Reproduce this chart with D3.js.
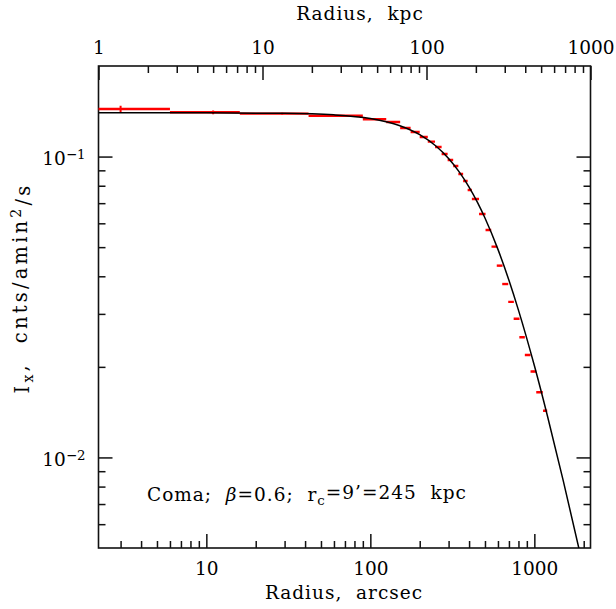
<!DOCTYPE html>
<html>
<head>
<meta charset="utf-8">
<script src="https://cdn.jsdelivr.net/npm/d3@7"></script>
<style>
  body { margin: 0; background: #fff; }
  text { font-family: "DejaVu Serif", serif; fill: #000; }
</style>
</head>
<body>
<svg id="profile" width="616" height="609"></svg>
<script>
//surface brightness bins, radius in arcsec (inner / outer edge of each annulus)
var binInner = [0, 6, 16, 42, 90, 125, 152, 176, 200, 224, 248, 272, 296, 320, 344, 368, 392, 416, 460,
                504, 548, 590, 637, 693, 748, 810, 875, 948, 1027, 1130];
var binOuter = [6, 16, 42, 90, 125, 152, 176, 200, 224, 248, 272, 296, 320, 344, 368, 392, 416, 460, 504,
                546, 594, 640, 693, 750, 812, 875, 948, 1027, 1126, 1198];
//measured brightness, cnts/amin^2/s
var flux = [0.1439, 0.1403, 0.1389, 0.1367, 0.1330, 0.1303, 0.1245, 0.1207, 0.1162, 0.1121, 0.1076, 0.1020,
            0.0974, 0.0930, 0.0875, 0.0829, 0.0774, 0.0723, 0.0644,
            0.0570, 0.0502, 0.0434, 0.0377, 0.0329, 0.0289, 0.0251, 0.0219, 0.0193, 0.01646, 0.01430];
var fluxErr = [0.0037, 0.0021, 0.0010, 0.0008, 0.0008, 0.0006, 0.0005, 0.0005, 0.0005, 0.0005, 0.0005, 0.0004,
               0.0004, 0.0004, 0.0004, 0.0003, 0.0003, 0.0003, 0.0003,
               0.0002, 0.0002, 0.0002, 0.0002, 0.0001, 0.0001, 0.0001, 0.0001, 0.0001, 0.0001, 0.0001];

//beta model curve (radius arcsec, brightness)
var modelRadius = [2.2, 10, 30, 60, 100, 150, 200, 250, 300, 350, 400, 450, 500, 600, 700, 800, 1000, 1200, 1500, 1900];
var modelFlux = [0.1398, 0.13974, 0.13924, 0.13759, 0.13380, 0.12692, 0.11829, 0.10861, 0.09855, 0.08861, 0.07916,
                 0.07043, 0.06250, 0.04915, 0.03880, 0.03088, 0.02020, 0.01379, 0.008378, 0.004798];

//tick values
var arcsecMajor = [10, 100, 1000];
var arcsecMinor = [3, 4, 5, 6, 7, 8, 9, 20, 30, 40, 50, 60, 70, 80, 90, 200, 300, 400, 500, 600, 700, 800, 900, 2000];
var kpcMajor = [1, 10, 100, 1000];
var kpcMinor = [2, 3, 4, 5, 6, 7, 8, 9, 20, 30, 40, 50, 60, 70, 80, 90, 200, 300, 400, 500, 600, 700, 800, 900];
var fluxMajor = [0.01, 0.1];
var fluxExp = {0.01: "\u22122", 0.1: "\u22121"};
var fluxMinor = [0.006, 0.007, 0.008, 0.009, 0.02, 0.03, 0.04, 0.05, 0.06, 0.07, 0.08, 0.09];

// plot box edges in pixels (note: "top" is taken by window.top, so prefix them)
var svg = d3.select("#profile"),
    boxLeft = 98.5, boxRight = 590.5, boxTop = 66, boxBottom = 548,
    fontSize = 18.5;

var x = d3.scaleLog().domain([2.2, 2200]).range([boxLeft, boxRight]);
var xKpc = d3.scaleLog().domain([1, 1000]).range([boxLeft, boxRight]);
var y = d3.scaleLog().domain([0.005, 0.2]).range([boxBottom, boxTop]);

//clip so the model does not run out of the box
svg.append("clipPath").attr("id", "box")
  .append("rect")
    .attr("x", boxLeft).attr("y", boxTop)
    .attr("width", boxRight - boxLeft).attr("height", boxBottom - boxTop);

//AXES - major and minor ticks are two separate axis calls
function styleAxis(g) {
  g.select(".domain").remove();
  g.selectAll(".tick line").attr("stroke", "#111").attr("stroke-width", 1.5);
  g.selectAll(".tick text").attr("font-size", fontSize).attr("font-family", "DejaVu Serif");
}

svg.append("g")
    .attr("transform", "translate(0," + boxBottom + ")")
    .call(d3.axisBottom(x).tickValues(arcsecMinor).tickSizeInner(-7).tickSizeOuter(0).tickFormat(""))
    .call(styleAxis);
svg.append("g")
    .attr("transform", "translate(0," + boxBottom + ")")
    .call(d3.axisBottom(x).tickValues(arcsecMajor).tickSizeInner(-14).tickSizeOuter(0).tickPadding(14).tickFormat(d3.format("d")))
    .call(styleAxis);

svg.append("g")
    .attr("transform", "translate(0," + boxTop + ")")
    .call(d3.axisTop(xKpc).tickValues(kpcMinor).tickSizeInner(-7).tickSizeOuter(0).tickFormat(""))
    .call(styleAxis);
svg.append("g")
    .attr("transform", "translate(0," + boxTop + ")")
    .call(d3.axisTop(xKpc).tickValues(kpcMajor).tickSizeInner(-14).tickSizeOuter(0).tickPadding(12.5).tickFormat(d3.format("d")))
    .call(styleAxis);

svg.append("g")
    .attr("transform", "translate(" + boxLeft + ",0)")
    .call(d3.axisLeft(y).tickValues(fluxMinor).tickSizeInner(-7).tickSizeOuter(0).tickFormat(""))
    .call(styleAxis);
var yMajor = svg.append("g")
    .attr("transform", "translate(" + boxLeft + ",0)")
    .call(d3.axisLeft(y).tickValues(fluxMajor).tickSizeInner(-14).tickSizeOuter(0).tickPadding(13).tickFormat(""))
    .call(styleAxis);

//powers of ten with a raised exponent
yMajor.selectAll(".tick text")
    .attr("dy", "0.42em")
  .each(function(d) {
    var t = d3.select(this);
    t.append("tspan").text("10");
    t.append("tspan").attr("dy", "-0.45em").attr("font-size", fontSize * 0.72).text(fluxExp[d]);
  });

svg.append("g")
    .attr("transform", "translate(" + boxRight + ",0)")
    .call(d3.axisRight(y).tickValues(fluxMinor).tickSizeInner(-7).tickSizeOuter(0).tickFormat(""))
    .call(styleAxis);
svg.append("g")
    .attr("transform", "translate(" + boxRight + ",0)")
    .call(d3.axisRight(y).tickValues(fluxMajor).tickSizeInner(-14).tickSizeOuter(0).tickFormat(""))
    .call(styleAxis);

//frame
svg.append("rect")
    .attr("x", boxLeft).attr("y", boxTop)
    .attr("width", boxRight - boxLeft).attr("height", boxBottom - boxTop)
    .attr("fill", "none")
    .attr("stroke", "#111")
    .attr("stroke-width", 1.6);

//DATA - red bins with error bars
var bins = flux.map(function(v, i) {
  return {lo: binInner[i], hi: binOuter[i], v: v, e: fluxErr[i]};
});

var data = svg.append("g").attr("clip-path", "url(#box)");

data.selectAll(".bin")
  .data(bins)
  .enter().append("line")
    .attr("class", "bin")
    .attr("x1", function(d) { return x(Math.max(d.lo, 1)); })
    .attr("x2", function(d) { return x(d.hi); })
    .attr("y1", function(d) { return y(d.v); })
    .attr("y2", function(d) { return y(d.v); })
    .attr("stroke", "#ff0000")
    .attr("stroke-width", 2.4);

data.selectAll(".err")
  .data(bins)
  .enter().append("line")
    .attr("class", "err")
    .attr("x1", function(d) { return x((d.lo + d.hi) / 2); })
    .attr("x2", function(d) { return x((d.lo + d.hi) / 2); })
    .attr("y1", function(d) { return y(d.v - d.e); })
    .attr("y2", function(d) { return y(d.v + d.e); })
    .attr("stroke", "#ff0000")
    .attr("stroke-width", 2);

//MODEL
var model = modelRadius.map(function(r, i) { return [r, modelFlux[i]]; });
data.append("path")
    .datum(model)
    .attr("fill", "none")
    .attr("stroke", "#000")
    .attr("stroke-width", 1.5)
    .attr("d", d3.line()
      .x(function(d) { return x(d[0]); })
      .y(function(d) { return y(d[1]); })
      .curve(d3.curveMonotoneX));

//LABELS
svg.append("text")
    .attr("x", 360).attr("y", 20)
    .attr("text-anchor", "middle")
    .attr("font-size", fontSize)
    .attr("letter-spacing", 1)
    .attr("xml:space", "preserve")
    .text("Radius,  kpc");

svg.append("text")
    .attr("x", 344).attr("y", 599)
    .attr("text-anchor", "middle")
    .attr("font-size", fontSize)
    .attr("letter-spacing", 1)
    .attr("xml:space", "preserve")
    .text("Radius,  arcsec");

// y title is much more spread out in the original
var ylab = svg.append("text")
    .attr("transform", "translate(29,288) rotate(-90)")
    .attr("text-anchor", "middle")
    .attr("font-size", 19.5)
    .attr("letter-spacing", 3.2)
    .attr("xml:space", "preserve");
ylab.append("tspan").text("I");
ylab.append("tspan").attr("dy", "0.3em").attr("font-size", 14).text("x");
ylab.append("tspan").attr("dy", "-0.3em").text(",  cnts/amin");
ylab.append("tspan").attr("dy", "-0.45em").attr("font-size", 14).text("2");
ylab.append("tspan").attr("dy", "0.45em").text("/s");

var note = svg.append("text")
    .attr("x", 147).attr("y", 501)
    .attr("font-size", fontSize)
    .attr("letter-spacing", 1)
    .attr("xml:space", "preserve");
note.append("tspan").text("Coma;  ");
note.append("tspan").attr("font-style", "italic").text("\u03b2");
note.append("tspan").text("=0.6;  r");
note.append("tspan").attr("dy", "0.3em").attr("font-size", fontSize * 0.72).text("c");
note.append("tspan").attr("dy", "-0.3em").text("=9\u2019=245  kpc");
</script>
</body>
</html>
